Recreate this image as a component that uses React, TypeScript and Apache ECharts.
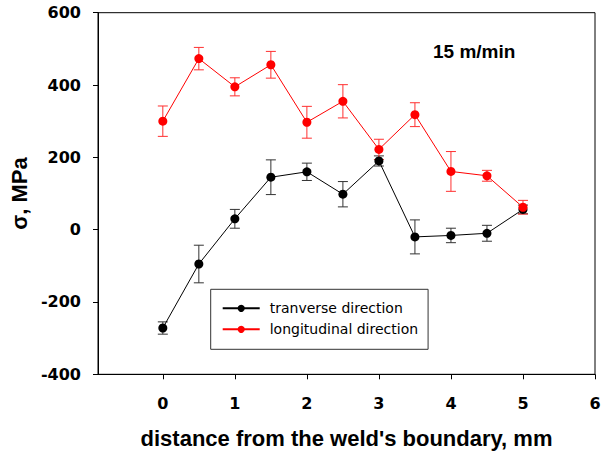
import React, { useEffect, useRef } from "react";
import * as echarts from "echarts";

const distances = [0, 0.5, 1, 1.5, 2, 2.5, 3, 3.5, 4, 4.5, 5];
const transverse = [-272, -95, 30, 145, 160, 98, 190, -20, -16, -10, 56];
const transverseErr = [17, 52, 26, 48, 24, 35, 14, 47, 20, 22, 12];
const longitudinal = [300, 473, 395, 456, 297, 355, 222, 318, 161, 149, 62];
const longitudinalErr = [42, 31, 25, 37, 44, 46, 28, 33, 55, 15, 19];
const xTickValues = [0, 1, 2, 3, 4, 5, 6];
const seriesNames = ["tranverse direction", "longitudinal direction"];
const speedLabel = "15 m/min";

function errorSeries(values: number[], errs: number[], color: string) {
  return {
    type: "custom",
    silent: true,
    z: 1,
    data: distances.map((x, i) => [x, values[i] - errs[i], values[i] + errs[i]]),
    encode: { x: 0, y: [1, 2] },
    renderItem: (params: any, api: any) => {
      const x = api.value(0);
      const top = api.coord([x, api.value(2)]);
      const bot = api.coord([x, api.value(1)]);
      const hw = 5;
      const style = { stroke: color, lineWidth: 1 };
      return {
        type: "group",
        children: [
          { type: "line", shape: { x1: top[0], y1: top[1], x2: bot[0], y2: bot[1] }, style },
          { type: "line", shape: { x1: top[0] - hw, y1: top[1], x2: top[0] + hw, y2: top[1] }, style },
          { type: "line", shape: { x1: bot[0] - hw, y1: bot[1], x2: bot[0] + hw, y2: bot[1] }, style },
        ],
      };
    },
  };
}

export default function App() {
  const ref = useRef<HTMLDivElement>(null);
  useEffect(() => {
    if (!ref.current) return;
    const chart = echarts.init(ref.current, null, { renderer: "svg" });
    const tickFont = { fontFamily: "DejaVu Sans", fontWeight: "bold", fontSize: 16, color: "#000" };
    const titleFont = { fontFamily: "Liberation Sans", fontWeight: "bold", fontSize: 22, color: "#000" };
    chart.setOption({
      animation: false,
      backgroundColor: "#fff",
      grid: {
        left: 93,
        right: 18,
        top: 12.7,
        bottom: 78.3,
        show: true,
        borderColor: "#000",
        borderWidth: 1,
        containLabel: false,
      },
      xAxis: {
        type: "value",
        min: -0.9,
        max: 6,
        name: "distance from the weld's boundary, mm",
        nameLocation: "middle",
        nameGap: 52.7,
        nameTextStyle: titleFont,
        axisLine: { show: true, onZero: false, lineStyle: { color: "#000", width: 1 } },
        axisTick: { show: true, inside: false, length: 5, customValues: xTickValues, lineStyle: { color: "#000" } },
        axisLabel: { ...tickFont, margin: 21, customValues: xTickValues },
        splitLine: { show: false },
      },
      yAxis: {
        type: "value",
        min: -400,
        max: 600,
        interval: 200,
        name: "σ, MPa",
        nameLocation: "middle",
        nameGap: 68,
        nameTextStyle: titleFont,
        axisLine: { show: true, onZero: false, lineStyle: { color: "#000", width: 1 } },
        axisTick: { show: true, inside: false, length: 5, lineStyle: { color: "#000" } },
        axisLabel: { ...tickFont, margin: 17 },
        splitLine: { show: false },
      },
      legend: {
        data: seriesNames,
        orient: "vertical",
        left: 210.7,
        top: 289.3,
        padding: [12, 10, 13, 11],
        itemWidth: 37,
        itemHeight: 9,
        itemGap: 7,
        borderColor: "#333",
        borderWidth: 1,
        backgroundColor: "#fff",
        textStyle: { fontFamily: "DejaVu Sans", fontSize: 14, color: "#000", padding: [0, 0, 0, 5] },
      },
      graphic: [
        {
          type: "text",
          x: 433,
          y: 51.7,
          style: {
            text: speedLabel,
            fontFamily: "Liberation Sans",
            fontWeight: "bold",
            fontSize: 19,
            fill: "#000",
            verticalAlign: "middle",
          },
        },
      ],
      series: [
        errorSeries(transverse, transverseErr, "#333"),
        errorSeries(longitudinal, longitudinalErr, "#ff3030"),
        {
          name: seriesNames[0],
          type: "line",
          z: 2,
          data: distances.map((x, i) => [x, transverse[i]]),
          symbol: "circle",
          symbolSize: 9,
          itemStyle: { color: "#000" },
          lineStyle: { color: "#000", width: 1 },
        },
        {
          name: seriesNames[1],
          type: "line",
          z: 3,
          data: distances.map((x, i) => [x, longitudinal[i]]),
          symbol: "circle",
          symbolSize: 9,
          itemStyle: { color: "#ff0000" },
          lineStyle: { color: "#ff0000", width: 1 },
        },
      ],
    });
    return () => chart.dispose();
  }, []);
  return (
    <div
      ref={ref}
      style={{ position: "fixed", left: 0, top: 0, width: 613, height: 454, background: "#fff" }}
    />
  );
}
